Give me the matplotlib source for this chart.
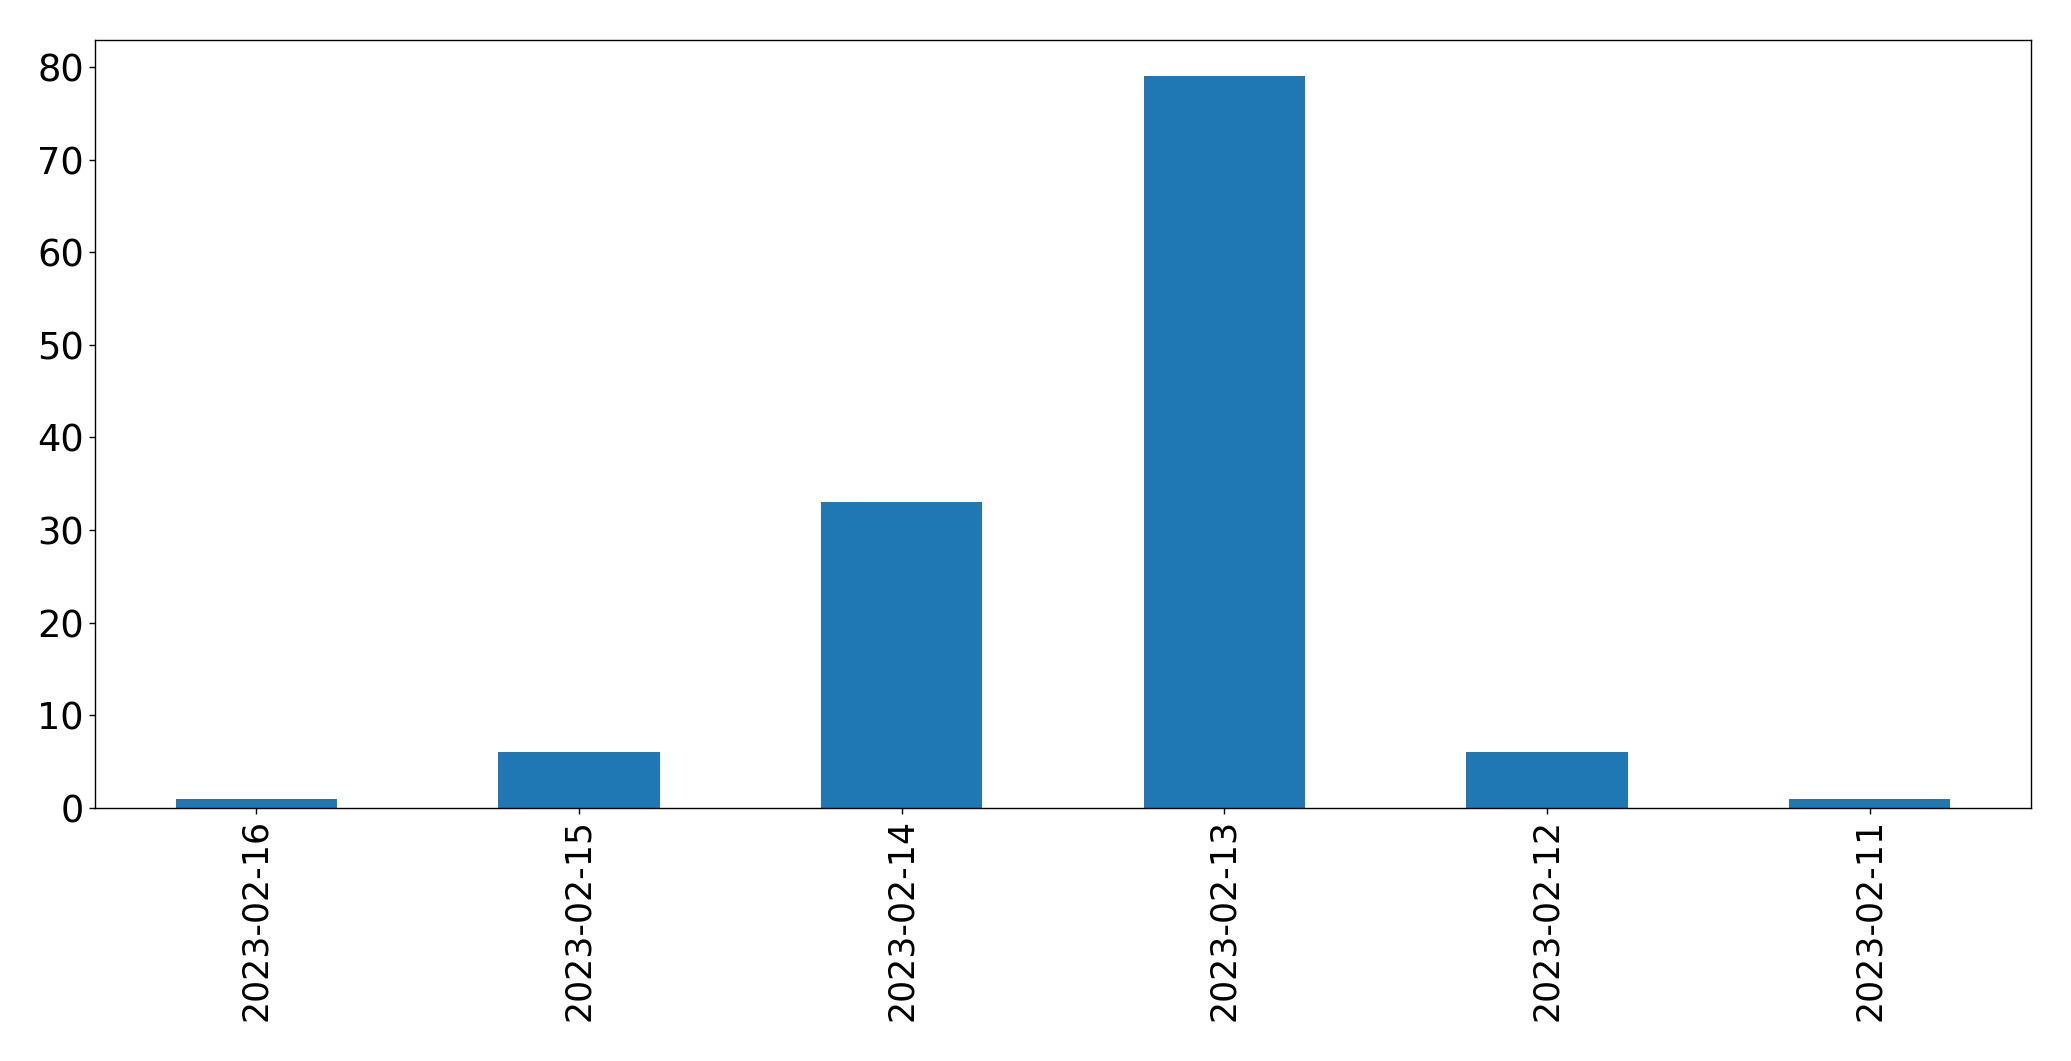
import matplotlib
matplotlib.use("Agg")
import matplotlib.pyplot as plt
import pandas as pd

dates = ["2023-02-16", "2023-02-15", "2023-02-14", "2023-02-13", "2023-02-12", "2023-02-11"]
counts = [1, 6, 33, 79, 6, 1]

fig = plt.figure(figsize=(20.71, 10.61), dpi=100)
ax = fig.add_axes([0.0459, 0.2385, 0.9348, 0.7242])
s = pd.Series(counts, index=dates)
s.plot(kind="bar", ax=ax, color="#1f77b4", width=0.5)
ax.tick_params(axis="y", labelsize=26.5, length=4.6, width=1.0)
ax.tick_params(axis="x", labelsize=25, length=4.6, width=1.0)
for sp in ax.spines.values():
    sp.set_linewidth(1.0)
ax.set_xlim(-0.5, len(dates) - 0.5)
ax.set_ylim(0, max(counts) * 1.05)
plt.setp(ax.get_xticklabels(), rotation=90)
fig.savefig("out.png", dpi=100)
